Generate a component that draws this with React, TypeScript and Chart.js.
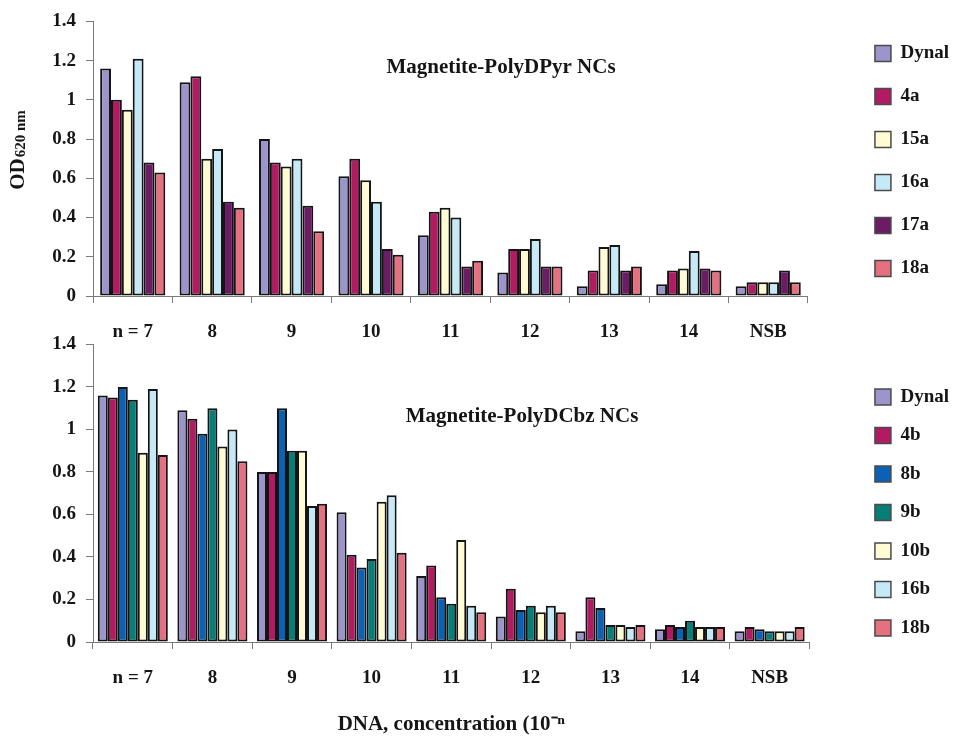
import React, { useEffect, useRef } from 'react';
import { Chart, registerables } from 'chart.js';

Chart.register(...registerables);

// ---------- data ----------
const categories = ['n = 7', '8', '9', '10', '11', '12', '13', '14', 'NSB'];

const topSeriesNames = ['Dynal', '4a', '15a', '16a', '17a', '18a'];
const topDynal = [1.16, 1.09, 0.80, 0.61, 0.31, 0.12, 0.05, 0.06, 0.05];
const top4a = [1.00, 1.12, 0.68, 0.70, 0.43, 0.24, 0.13, 0.13, 0.07];
const top15a = [0.95, 0.70, 0.66, 0.59, 0.45, 0.24, 0.25, 0.14, 0.07];
const top16a = [1.21, 0.75, 0.70, 0.48, 0.40, 0.29, 0.26, 0.23, 0.07];
const top17a = [0.68, 0.48, 0.46, 0.24, 0.15, 0.15, 0.13, 0.14, 0.13];
const top18a = [0.63, 0.45, 0.33, 0.21, 0.18, 0.15, 0.15, 0.13, 0.07];

const botSeriesNames = ['Dynal', '4b', '8b', '9b', '10b', '16b', '18b'];
const botDynal = [1.16, 1.09, 0.80, 0.61, 0.31, 0.12, 0.05, 0.06, 0.05];
const bot4b = [1.15, 1.05, 0.80, 0.41, 0.36, 0.25, 0.21, 0.08, 0.07];
const bot8b = [1.20, 0.98, 1.10, 0.35, 0.21, 0.15, 0.16, 0.07, 0.06];
const bot9b = [1.14, 1.10, 0.90, 0.39, 0.18, 0.17, 0.08, 0.10, 0.05];
const bot10b = [0.89, 0.92, 0.90, 0.66, 0.48, 0.14, 0.08, 0.07, 0.05];
const bot16b = [1.19, 1.00, 0.64, 0.69, 0.17, 0.17, 0.07, 0.07, 0.05];
const bot18b = [0.88, 0.85, 0.65, 0.42, 0.14, 0.14, 0.08, 0.07, 0.07];

const Y_MIN = 0;
const Y_MAX = 1.4;
const Y_STEP = 0.2;

const topTitle = 'Magnetite-PolyDPyr NCs';
const botTitle = 'Magnetite-PolyDCbz NCs';
const yTitleMain = 'OD';
const yTitleSub = '620 nm';
const xTitle = 'DNA, concentration (10\u207B\u207F';

// ---------- style ----------
const FONT = '"Liberation Serif", "Times New Roman", serif';
const TXT = '#151515';
const AXIS = '#7a7a7a';
const BAR_BORDER = '#141414';

const topColors = ['#9C95CB', '#B01B62', '#FFFBD3', '#C6E9F8', '#6C1C65', '#E5707F'];
const botColors = ['#9C95CB', '#B01B62', '#0B62B5', '#087E78', '#FFFBD3', '#C6E9F8', '#E5707F'];

const BOT_CANVAS_TOP = 323;
const BOT_CANVAS_H = 415;

function makeDatasets(names: string[], series: number[][], colors: string[], catPct: number) {
  return names.map((name, i) => ({
    label: name,
    data: series[i],
    backgroundColor: colors[i],
    borderColor: BAR_BORDER,
    borderWidth: 2,
    borderSkipped: false as const,
    categoryPercentage: catPct,
    barPercentage: 1,
  }));
}

function textPlugin(id: string, text: string, x: number, y: number) {
  return {
    id,
    afterDraw(chart: any) {
      const ctx = chart.ctx;
      ctx.save();
      ctx.font = `bold 21px ${FONT}`;
      ctx.fillStyle = TXT;
      ctx.textAlign = 'center';
      ctx.textBaseline = 'middle';
      ctx.fillText(text, x, y);
      ctx.restore();
    },
  };
}

const yTitlePlugin = {
  id: 'yTitleSub',
  afterDraw(chart: any) {
    const ctx = chart.ctx;
    ctx.save();
    ctx.translate(18, 150);
    ctx.rotate(-Math.PI / 2);
    ctx.font = `bold 21px ${FONT}`;
    const w1 = ctx.measureText(yTitleMain).width;
    ctx.font = `bold 15px ${FONT}`;
    const w2 = ctx.measureText(yTitleSub).width;
    const start = -(w1 + w2 + 1) / 2;
    ctx.fillStyle = TXT;
    ctx.textBaseline = 'alphabetic';
    ctx.textAlign = 'left';
    ctx.font = `bold 21px ${FONT}`;
    ctx.fillText(yTitleMain, start, 6);
    ctx.font = `bold 15px ${FONT}`;
    ctx.fillText(yTitleSub, start + w1 + 1, 7);
    ctx.restore();
  },
};

interface Cfg {
  padTop: number;
  padRight: number;
  xHeight: number;
  gap: number;
  legendPad: number;
  legendTitleH: number;
  showXTitle: boolean;
}

function makeOptions(cfg: Cfg) {
  const tickFont = { family: FONT, size: 19, weight: 'bold' as const };
  return {
    responsive: false,
    animation: false as const,
    events: [] as any[],
    layout: { padding: { top: cfg.padTop, right: cfg.padRight, bottom: 0, left: 0 } },
    plugins: {
      legend: {
        position: 'right' as const,
        align: 'start' as const,
        fullSize: true,
        title: cfg.legendTitleH > 0
          ? { display: true, text: '', font: { size: 10 }, padding: { top: (cfg.legendTitleH - 12) / 2, bottom: (cfg.legendTitleH - 12) / 2 } }
          : { display: false, text: '' },
        labels: {
          boxWidth: 16,
          boxHeight: 16,
          padding: cfg.legendPad,
          color: TXT,
          font: { family: FONT, size: 19, weight: 'bold' as const },
          generateLabels: (chart: any) =>
            (Chart.defaults.plugins.legend.labels.generateLabels as any)(chart).map((l: any) => ({
              ...l,
              lineWidth: 1.5,
              strokeStyle: '#4a4a4a',
            })),
        },
      },
      tooltip: { enabled: false },
    },
    scales: {
      x: {
        offset: true,
        grid: { offset: true, drawOnChartArea: false, drawTicks: true, tickLength: 7, color: AXIS, lineWidth: 1 },
        border: { display: true, color: AXIS, width: 1 },
        ticks: { padding: 18, color: TXT, font: tickFont, maxRotation: 0, autoSkip: false },
        title: cfg.showXTitle
          ? { display: true, text: xTitle, color: TXT, font: { family: FONT, size: 21, weight: 'bold' as const }, padding: { top: 0, bottom: 1 } }
          : { display: false, text: '' },
        afterFit: (s: any) => {
          s.height = cfg.xHeight;
        },
      },
      y: {
        min: Y_MIN,
        max: Y_MAX,
        ticks: {
          stepSize: Y_STEP,
          padding: 10,
          color: TXT,
          font: tickFont,
          callback: (v: any) => String(Number(Number(v).toFixed(1))),
        },
        grid: { drawOnChartArea: false, drawTicks: true, tickLength: 7, color: AXIS, lineWidth: 1 },
        border: { display: true, color: AXIS, width: 1 },
        afterFit: (s: any) => {
          s.width = 93;
        },
      },
      gap: {
        type: 'linear' as const,
        position: 'right' as const,
        display: true,
        grid: { display: false },
        border: { display: false },
        ticks: { display: false },
        afterFit: (s: any) => {
          s.width = cfg.gap;
        },
      },
    },
  };
}

export default function App() {
  const topRef = useRef<HTMLCanvasElement | null>(null);
  const botRef = useRef<HTMLCanvasElement | null>(null);

  useEffect(() => {
    if (!topRef.current || !botRef.current) return;
    const top = new Chart(topRef.current, {
      type: 'bar',
      data: {
        labels: categories,
        datasets: makeDatasets(topSeriesNames, [topDynal, top4a, top15a, top16a, top17a, top18a], topColors, 0.82),
      },
      options: makeOptions({ padTop: 20, padRight: -4, xHeight: 54, gap: 43, legendPad: 24, legendTitleH: 0, showXTitle: false }) as any,
      plugins: [textPlugin('topTitle', topTitle, 501, 68), yTitlePlugin],
    });
    const bot = new Chart(botRef.current, {
      type: 'bar',
      data: {
        labels: categories,
        datasets: makeDatasets(botSeriesNames, [botDynal, bot4b, bot8b, bot9b, bot10b, bot16b, bot18b], botColors, 0.88),
      },
      options: makeOptions({ padTop: 14, padRight: -4, xHeight: 96, gap: 46, legendPad: 19.5, legendTitleH: 31, showXTitle: true }) as any,
      plugins: [textPlugin('botTitle', botTitle, 522, 417 - BOT_CANVAS_TOP)],
    });
    return () => {
      top.destroy();
      bot.destroy();
    };
  }, []);

  return (
    <div style={{ position: 'absolute', left: 0, top: 0, width: 955, height: 738, background: '#ffffff', overflow: 'hidden' }}>
      <canvas ref={topRef} width={955} height={350} style={{ position: 'absolute', left: 0, top: 0 }} />
      <canvas ref={botRef} width={955} height={BOT_CANVAS_H} style={{ position: 'absolute', left: 0, top: BOT_CANVAS_TOP }} />
    </div>
  );
}
